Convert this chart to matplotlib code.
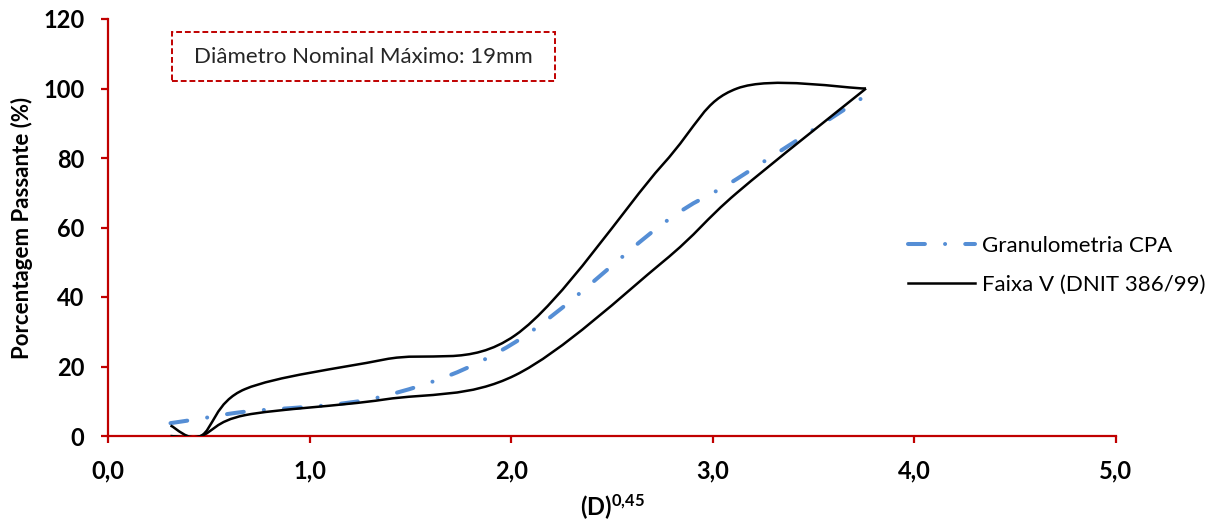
import matplotlib
matplotlib.use('Agg')
import matplotlib.pyplot as plt
import numpy as np
from matplotlib.path import Path
from matplotlib.patches import PathPatch, Rectangle
from matplotlib.lines import Line2D

# (D)^0,45 das peneiras
x_peneiras = [0.31, 0.46, 0.68, 1.37, 2.02, 2.75, 3.12, 3.76]
# Granulometria CPA (% passante)
cpa = [3.7, 5.0, 7.0, 11.5, 27.0, 61.0, 74.0, 98.0]
# Faixa V (DNIT 386/99) - limites superior e inferior
faixa_sup = [3.0, 0.0, 13.5, 22.0, 29.0, 78.0, 100.0, 100.0]
faixa_inf = [0.0, 0.0, 6.0, 10.5, 17.5, 50.0, 70.0, 100.0]

x_ticks = [0, 1, 2, 3, 4, 5]
x_tick_labels = ['0,0', '1,0', '2,0', '3,0', '4,0', '5,0']
y_ticks = [0, 20, 40, 60, 80, 100, 120]

VERMELHO = '#C00000'
AZUL = '#558ED5'
TRACO = (0, (4.2, 5.0, 0.01, 5.0))


def curva_suave(xs, ys):
    """Caminho Bezier igual ao 'linha suavizada' do Excel"""
    p = np.column_stack([xs, ys]).astype(float)
    n = len(p)
    verts = [p[0]]
    codes = [Path.MOVETO]
    for i in range(n - 1):
        p0 = p[i - 1] if i > 0 else p[i]
        p3 = p[i + 2] if i + 2 < n else p[i + 1]
        c1 = p[i] + (p[i + 1] - p0) / 6.0
        c2 = p[i + 1] - (p3 - p[i]) / 6.0
        verts += [c1, c2, p[i + 1]]
        codes += [Path.CURVE4] * 3
    return Path(verts, codes)


plt.rcParams['font.family'] = ['Lato', 'DejaVu Sans']
plt.rcParams['mathtext.fontset'] = 'custom'
plt.rcParams['mathtext.bf'] = 'Lato:bold'
plt.rcParams['mathtext.rm'] = 'Lato'

fig = plt.figure(figsize=(12.18, 5.28), dpi=100)
ax = fig.add_axes([108 / 1218, 1 - 436 / 528, 1008 / 1218, 417 / 528])

ax.add_patch(PathPatch(curva_suave(x_peneiras, faixa_sup), fill=False,
                       edgecolor='black', lw=1.8, zorder=3))
ax.add_patch(PathPatch(curva_suave(x_peneiras, faixa_inf), fill=False,
                       edgecolor='black', lw=1.8, zorder=3))
ax.add_patch(PathPatch(curva_suave(x_peneiras, cpa), fill=False,
                       edgecolor=AZUL, lw=2.9, linestyle=TRACO,
                       capstyle='round', zorder=2))

ax.set_xlim(0, 5)
ax.set_ylim(0, 120)
ax.set_xticks(x_ticks)
ax.set_xticklabels(x_tick_labels)
ax.set_yticks(y_ticks)

for s in ['top', 'right']:
    ax.spines[s].set_visible(False)
for s in ['left', 'bottom']:
    ax.spines[s].set_color(VERMELHO)
    ax.spines[s].set_linewidth(1.6)
ax.tick_params(axis='both', colors=VERMELHO, width=1.6, length=5, pad=12,
               labelcolor='black', labelsize=17)
for lab in ax.get_xticklabels() + ax.get_yticklabels():
    lab.set_fontweight('bold')

ax.set_ylabel('Porcentagem Passante (%)', fontsize=16, fontweight='bold')
ax.yaxis.set_label_coords(-0.074, 0.5)
ax.set_xlabel(r'$\mathbf{(D)^{0{,}45}}$', fontsize=17)
ax.xaxis.set_label_coords(0.5, -0.135)

# caixa de texto
fig.patches.append(Rectangle((172 / 1218, 1 - 81 / 528), 383 / 1218, 49 / 528,
                             transform=fig.transFigure, fill=False,
                             edgecolor=VERMELHO, lw=1.4, linestyle=(0, (3, 1.5))))
fig.text(363 / 1218, 1 - 57 / 528, 'Diâmetro Nominal Máximo: 19mm',
         ha='center', va='center', fontsize=16, color='#262626')

handles = [Line2D([], [], color=AZUL, lw=2.9, linestyle=TRACO,
                  dash_capstyle='round'),
           Line2D([], [], color='black', lw=1.8)]
ax.legend(handles, ['Granulometria CPA', 'Faixa V (DNIT 386/99)'],
          loc='upper left', bbox_to_anchor=(0.794, 0.48), borderaxespad=0,
          borderpad=0, frameon=False, fontsize=16, handlelength=3.0,
          handletextpad=0.3, labelspacing=0.85)

fig.savefig('out.png', dpi=100)
